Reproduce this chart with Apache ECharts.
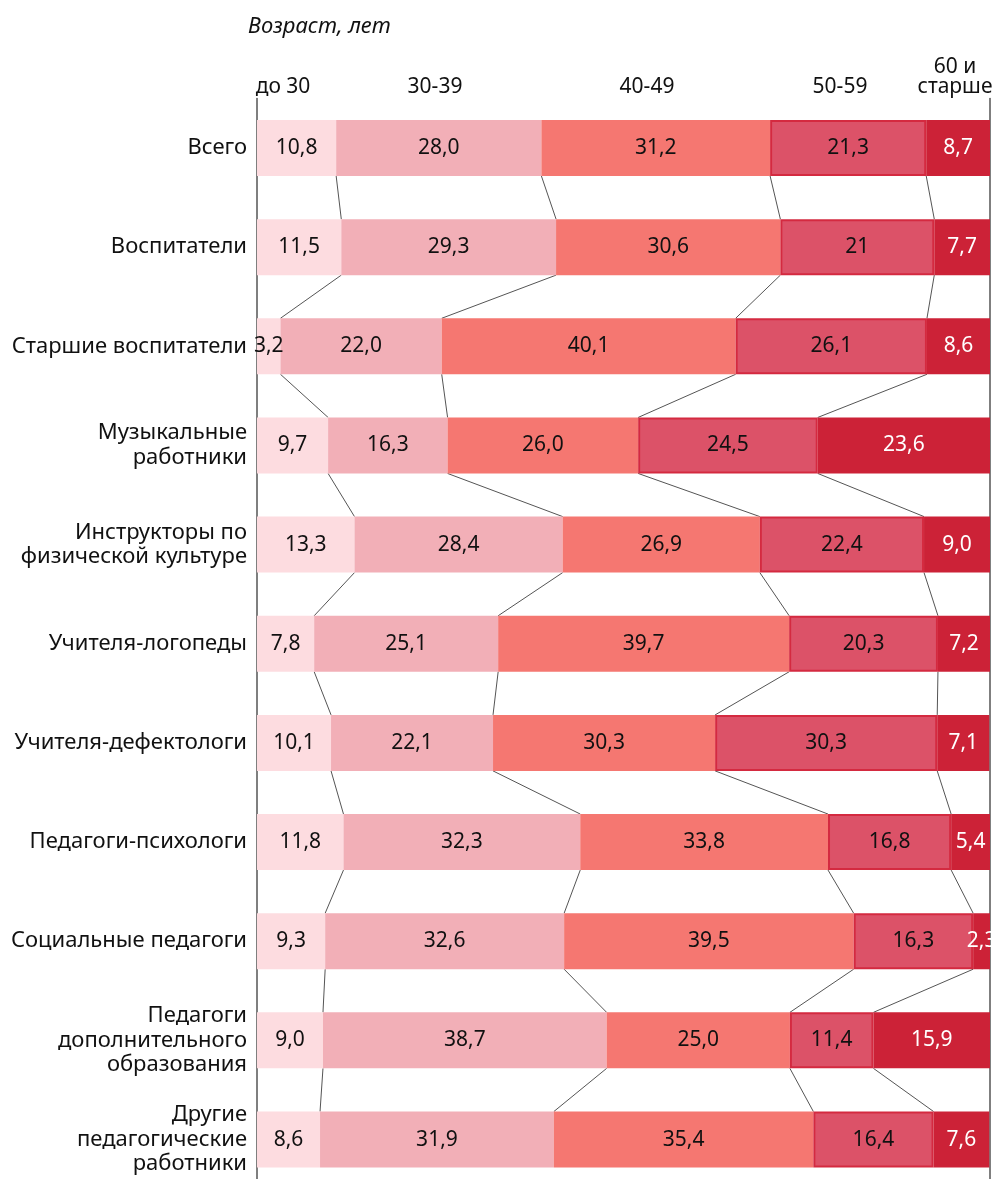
<!DOCTYPE html>
<html>
<head>
<meta charset="utf-8">
<script src="https://cdn.jsdelivr.net/npm/echarts@6/dist/echarts.min.js"></script>
<style>html,body{margin:0;padding:0;background:#fff;overflow:hidden}#c{width:1001px;height:1192px}</style>
</head>
<body>
<div id="c"></div>
<script>
const categories = [
  'Всего',
  'Воспитатели',
  'Старшие воспитатели',
  'Музыкальные\nработники',
  'Инструкторы по\nфизической культуре',
  'Учителя-логопеды',
  'Учителя-дефектологи',
  'Педагоги-психологи',
  'Социальные педагоги',
  'Педагоги\nдополнительного\nобразования',
  'Другие\nпедагогические\nработники'
];
const ageGroups = ['до 30', '30-39', '40-49', '50-59', '60 и\nстарше'];
const under30 = [10.8, 11.5, 3.2, 9.7, 13.3, 7.8, 10.1, 11.8, 9.3, 9.0, 8.6];
const age30_39 = [28.0, 29.3, 22.0, 16.3, 28.4, 25.1, 22.1, 32.3, 32.6, 38.7, 31.9];
const age40_49 = [31.2, 30.6, 40.1, 26.0, 26.9, 39.7, 30.3, 33.8, 39.5, 25.0, 35.4];
const age50_59 = [21.3, 21, 26.1, 24.5, 22.4, 20.3, 30.3, 16.8, 16.3, 11.4, 16.4];
const age60plus = [8.7, 7.7, 8.6, 23.6, 9.0, 7.2, 7.1, 5.4, 2.3, 15.9, 7.6];
// labels printed without a decimal in the source: [seriesIndex, categoryIndex]
const plainLabels = [[3, 1]];

const seriesData = [under30, age30_39, age40_49, age50_59, age60plus];
const colors = ['#FDDCE0', '#F2AFB7', '#F57771', '#DC5268', '#CC2237'];
const labelColors = ['#111', '#111', '#111', '#111', '#fff'];
const FONT = '"Noto Sans", sans-serif';
const BAR_W = 56;

// cumulative boundaries for connector lines
const connectors = [];
for (let i = 0; i < categories.length - 1; i++) {
  let c1 = 0, c2 = 0;
  for (let k = 0; k < seriesData.length - 1; k++) {
    c1 += seriesData[k][i];
    c2 += seriesData[k][i + 1];
    connectors.push([c1, c2, i]);
  }
}

function fmt(s, i, v) {
  for (const p of plainLabels) if (p[0] === s && p[1] === i) return String(v);
  return v.toFixed(1).replace('.', ',');
}

const chart = echarts.init(document.getElementById('c'), null, {renderer: 'canvas'});

const series = seriesData.map((arr, s) => ({
  type: 'bar',
  name: ageGroups[s],
  stack: 'total',
  barWidth: BAR_W,
  data: arr,
  z: 3,
  itemStyle: s === 3 ? {color: colors[s], borderColor: '#D42A40', borderWidth: 2} : {color: colors[s]},
  label: {
    show: true,
    position: 'inside',
    fontFamily: FONT,
    fontSize: 21,
    color: labelColors[s],
    formatter: p => fmt(s, p.dataIndex, p.value)
  },
  emphasis: {disabled: true}
}));

series.push({
  type: 'custom',
  data: connectors,
  encode: {x: [0, 1], y: 2},
  z: 2,
  silent: true,
  renderItem: function (params, api) {
    const i = api.value(2);
    const a = api.coord([api.value(0), i]);
    const b = api.coord([api.value(1), i + 1]);
    return {
      type: 'line',
      shape: {x1: a[0], y1: a[1] + BAR_W / 2, x2: b[0], y2: b[1] - BAR_W / 2},
      style: {stroke: '#555', lineWidth: 1}
    };
  }
});

const headerX = [283, 435, 647, 840, 955];
const graphics = [{
  type: 'text', left: 248, top: 16,
  style: {text: 'Возраст, лет', font: 'italic 22px ' + FONT, fill: '#111'}
}];
ageGroups.forEach((g, k) => {
  graphics.push({
    type: 'text',
    x: headerX[k], y: 97,
    style: {text: g, font: '21px ' + FONT, fill: '#111', textAlign: 'center', textVerticalAlign: 'bottom', lineHeight: 20}
  });
});

chart.setOption({
  animation: false,
  backgroundColor: '#fff',
  grid: {left: 257, right: 11, top: 98.4, height: 1090.7, containLabel: false},
  xAxis: {type: 'value', min: 0, max: 100, show: false},
  yAxis: [{
    type: 'category',
    data: categories,
    inverse: true,
    axisLine: {show: true, lineStyle: {color: '#555', width: 1.5}},
    axisTick: {show: false},
    axisLabel: {fontFamily: FONT, fontSize: 22, color: '#111', margin: 10, lineHeight: 24.5, align: 'right'}
  }, {
    type: 'category',
    data: categories,
    inverse: true,
    position: 'right',
    axisLine: {show: true, onZero: false, lineStyle: {color: '#555', width: 1.5}},
    axisTick: {show: false},
    axisLabel: {show: false}
  }],
  series: series,
  graphic: graphics
});
</script>
</body>
</html>
